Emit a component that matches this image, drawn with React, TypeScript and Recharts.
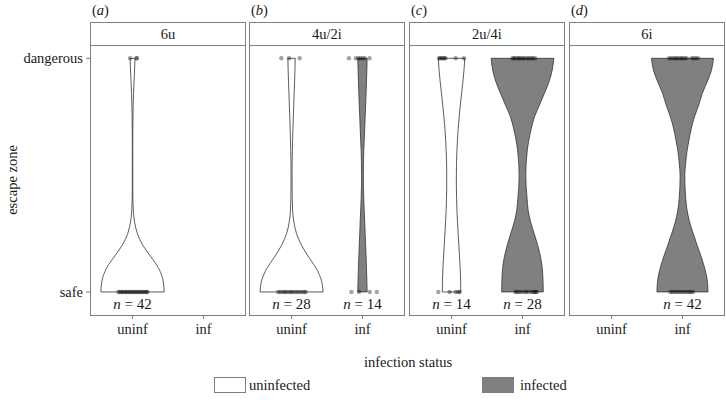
import React from "react";
import { Area, ComposedChart, ReferenceLine, Scatter, XAxis, YAxis } from "recharts";

// escape zone levels (0 = safe, 1 = dangerous) at which the violin half-widths are read
const levels = [0, 0.05, 0.1, 0.15, 0.2, 0.25, 0.3, 0.35, 0.4, 0.45, 0.5, 0.55, 0.6, 0.65, 0.7, 0.75, 0.8, 0.85, 0.9, 0.95, 1];

const halfU6u = [0.447, 0.43, 0.37, 0.26, 0.144, 0.068, 0.028, 0.011, 0.005, 0.003, 0.003, 0.003, 0.003, 0.003, 0.004, 0.006, 0.009, 0.014, 0.021, 0.029, 0.035];
const halfU4u2i = [0.445, 0.42, 0.35, 0.24, 0.14, 0.07, 0.032, 0.015, 0.01, 0.008, 0.007, 0.008, 0.011, 0.015, 0.02, 0.025, 0.031, 0.037, 0.043, 0.048, 0.052];
const halfI4u2i = [0.066, 0.062, 0.057, 0.051, 0.045, 0.038, 0.032, 0.025, 0.018, 0.014, 0.012, 0.014, 0.018, 0.025, 0.032, 0.038, 0.045, 0.051, 0.057, 0.062, 0.066];
const halfU2u4i = [0.13, 0.128, 0.122, 0.113, 0.103, 0.093, 0.084, 0.076, 0.071, 0.068, 0.068, 0.07, 0.075, 0.083, 0.094, 0.108, 0.124, 0.142, 0.16, 0.176, 0.187];
const halfI2u4i = [0.293, 0.29, 0.28, 0.255, 0.215, 0.165, 0.115, 0.08, 0.065, 0.052, 0.047, 0.052, 0.066, 0.09, 0.125, 0.17, 0.24, 0.31, 0.375, 0.42, 0.442];
const halfI6i = [0.36, 0.35, 0.315, 0.265, 0.207, 0.152, 0.1, 0.065, 0.046, 0.036, 0.033, 0.045, 0.063, 0.092, 0.125, 0.17, 0.23, 0.28, 0.35, 0.41, 0.437];

// jittered fish positions (offset from the group centre)
const safeU6u = [-0.2, -0.18, -0.16, -0.14, -0.12, -0.1, -0.08, -0.06, -0.04, -0.02, 0, 0.02, 0.04, 0.06, 0.08, 0.1, 0.12, 0.14, 0.16, 0.18, 0.2, 0.21];
const dangerU6u = [-0.036, 0.058, 0.06];
const safeU4u2i = [-0.19, -0.16, -0.13, -0.1, -0.08, -0.05, -0.02, 0, 0.03, 0.06, 0.09, 0.12, 0.15, 0.18, 0.2];
const dangerU4u2i = [-0.144, -0.036, 0.115];
const safeI4u2i = [-0.155, -0.047, 0.103, 0.202];
const dangerI4u2i = [-0.19, -0.094, -0.06, -0.03, 0, 0.03, 0.1];
const safeU2u4i = [-0.186, -0.026, 0.058, 0.096, 0.115];
const dangerU2u4i = [-0.177, -0.16, -0.14, -0.12, -0.1, -0.085, 0.058, 0.176];
const safeI2u4i = [-0.1, -0.08, -0.05, -0.02, 0.02, 0.05, 0.08, 0.12, 0.15, 0.17, 0.19, 0.2];
const dangerI2u4i = [-0.14, -0.12, -0.1, -0.07, -0.05, -0.03, 0, 0.02, 0.05, 0.08, 0.1, 0.13, 0.15, 0.18];
const safeI6i = [-0.17, -0.14, -0.11, -0.08, -0.05, -0.02, 0.01, 0.04, 0.07, 0.1, 0.12, 0.15];
const dangerI6i = [-0.19, -0.16, -0.13, -0.1, -0.08, -0.05, -0.02, 0, 0.03, 0.06, 0.13, 0.16, 0.19, 0.22];

const groupNames = ["uninf", "inf"];
const zoneNames = ["safe", "dangerous"];
const panelTitles = ["6u", "4u/2i", "2u/4i", "6i"];
const panelTags = ["a", "b", "c", "d"];
const nUninf = [42, 28, 14, null];
const nInf = [null, 14, 28, 42];

const panels = [
  { u: halfU6u, i: null, su: safeU6u, du: dangerU6u, si: [], di: [] },
  { u: halfU4u2i, i: halfI4u2i, su: safeU4u2i, du: dangerU4u2i, si: safeI4u2i, di: dangerI4u2i },
  { u: halfU2u4i, i: halfI2u4i, su: safeU2u4i, du: dangerU2u4i, si: safeI2u4i, di: dangerI2u4i },
  { u: null, i: halfI6i, su: [], du: [], si: safeI6i, di: dangerI6i },
];

const FONT = "'Liberation Serif', 'DejaVu Serif', serif";
const BORDER = "#7f7f7f";
const INFECTED = "#808080";
const TEXT = "#1a1a1a";
const panelLefts = [90, 249, 409, 569];
const PW = 156;
const PLOT_TOP = 45;
const PLOT_H = 271;
const AXIS_H = 30;

const Dot = (p: any) => <circle cx={p.cx} cy={p.cy} r={2.2} fill="#000" fillOpacity={0.36} />;
const NLabel = (p: any) => (
  <text x={p.cx} y={p.cy} textAnchor="middle" dominantBaseline="central" fontSize={15} fill={TEXT}>
    <tspan fontStyle="italic">n</tspan> = {p.payload.n}
  </text>
);

function Panel({ idx }: { idx: number }) {
  const p = panels[idx];
  const first = idx === 0;
  const data = levels.map((y, k) => ({
    y,
    u: p.u ? [1 - p.u[k], 1 + p.u[k]] : null,
    i: p.i ? [2 - p.i[k], 2 + p.i[k]] : null,
  }));
  const dots = [
    ...p.su.map((o) => ({ x: 1 + o, y: 0 })),
    ...p.du.map((o) => ({ x: 1 + o, y: 1 })),
    ...p.si.map((o) => ({ x: 2 + o, y: 0 })),
    ...p.di.map((o) => ({ x: 2 + o, y: 1 })),
  ];
  const labels = [
    ...(nUninf[idx] != null ? [{ x: 1, y: -0.053, n: nUninf[idx] }] : []),
    ...(nInf[idx] != null ? [{ x: 2, y: -0.053, n: nInf[idx] }] : []),
  ];
  const last = levels.length - 1;
  return (
    <ComposedChart
      layout="vertical"
      width={first ? PW + 90 : PW}
      height={PLOT_H + AXIS_H}
      data={data}
      margin={{ top: 0, right: 0, bottom: 0, left: 0 }}
    >
      <XAxis
        type="number"
        dataKey="x"
        domain={[0.4, 2.6]}
        allowDataOverflow
        ticks={[1, 2]}
        tickFormatter={(v) => groupNames[v - 1]}
        axisLine={false}
        tickSize={3}
        tickMargin={5}
        tickLine={{ stroke: BORDER }}
        height={AXIS_H}
        tick={{ fill: TEXT, fontSize: 14.5 }}
      />
      <YAxis
        type="number"
        dataKey="y"
        domain={[-0.103, 1.057]}
        allowDataOverflow
        reversed
        ticks={[0, 1]}
        tickFormatter={(v) => zoneNames[v]}
        axisLine={false}
        tickSize={4}
        tickMargin={3}
        tickLine={{ stroke: BORDER }}
        width={first ? 90 : 0}
        hide={!first}
        tick={{ fill: TEXT, fontSize: 14.5 }}
      />
      {p.u && (
        <Area dataKey="u" type="monotone" fill="#ffffff" fillOpacity={1} stroke="#333" strokeWidth={0.8} isAnimationActive={false} />
      )}
      {p.i && (
        <Area dataKey="i" type="monotone" fill={INFECTED} fillOpacity={1} stroke="#333" strokeWidth={0.8} isAnimationActive={false} />
      )}
      {p.u && (
        <ReferenceLine segment={[{ x: 1 - p.u[0], y: 0 }, { x: 1 + p.u[0], y: 0 }]} stroke="#333" strokeWidth={0.8} />
      )}
      {p.u && (
        <ReferenceLine segment={[{ x: 1 - p.u[last], y: 1 }, { x: 1 + p.u[last], y: 1 }]} stroke="#333" strokeWidth={0.8} />
      )}
      {p.i && (
        <ReferenceLine segment={[{ x: 2 - p.i[0], y: 0 }, { x: 2 + p.i[0], y: 0 }]} stroke="#333" strokeWidth={0.8} />
      )}
      {p.i && (
        <ReferenceLine segment={[{ x: 2 - p.i[last], y: 1 }, { x: 2 + p.i[last], y: 1 }]} stroke="#333" strokeWidth={0.8} />
      )}
      <Scatter data={dots} shape={Dot} isAnimationActive={false} />
      <Scatter data={labels} shape={NLabel} isAnimationActive={false} />
    </ComposedChart>
  );
}

export default function App() {
  return (
    <div style={{ position: "absolute", left: 0, top: 0, width: 726, height: 400, background: "#fff", fontFamily: FONT, color: TEXT, overflow: "hidden" }}>
      {panelLefts.map((left, idx) => (
        <React.Fragment key={idx}>
          <div style={{ position: "absolute", left: left + 2, top: 1, fontSize: 14.5, lineHeight: "18px" }}>
            (<i>{panelTags[idx]}</i>)
          </div>
          <div
            style={{
              position: "absolute", left, top: 22, width: PW, height: 24, boxSizing: "border-box",
              border: `1px solid ${BORDER}`, textAlign: "center", fontSize: 14.5, lineHeight: "22px",
            }}
          >
            {panelTitles[idx]}
          </div>
          <div style={{ position: "absolute", left: idx === 0 ? 0 : left, top: PLOT_TOP }}>
            <Panel idx={idx} />
          </div>
          <div
            style={{
              position: "absolute", left, top: PLOT_TOP, width: PW, height: PLOT_H, boxSizing: "border-box",
              border: `1px solid ${BORDER}`, pointerEvents: "none",
            }}
          />
        </React.Fragment>
      ))}
      <div style={{ position: "absolute", left: 12, top: 180, transform: "translate(-50%, -50%) rotate(-90deg)", fontSize: 14.5, whiteSpace: "nowrap" }}>
        escape zone
      </div>
      <div style={{ position: "absolute", left: 408, top: 362, transform: "translate(-50%, -50%)", fontSize: 14.5, whiteSpace: "nowrap" }}>
        infection status
      </div>
      <div style={{ position: "absolute", left: 214, top: 377, width: 32, height: 16, boxSizing: "border-box", border: `1px solid ${BORDER}`, background: "#fff" }} />
      <div style={{ position: "absolute", left: 249, top: 376, fontSize: 14.5, lineHeight: "18px" }}>uninfected</div>
      <div style={{ position: "absolute", left: 482, top: 377, width: 32, height: 16, boxSizing: "border-box", border: `1px solid ${BORDER}`, background: INFECTED }} />
      <div style={{ position: "absolute", left: 520, top: 376, fontSize: 14.5, lineHeight: "18px" }}>infected</div>
    </div>
  );
}
